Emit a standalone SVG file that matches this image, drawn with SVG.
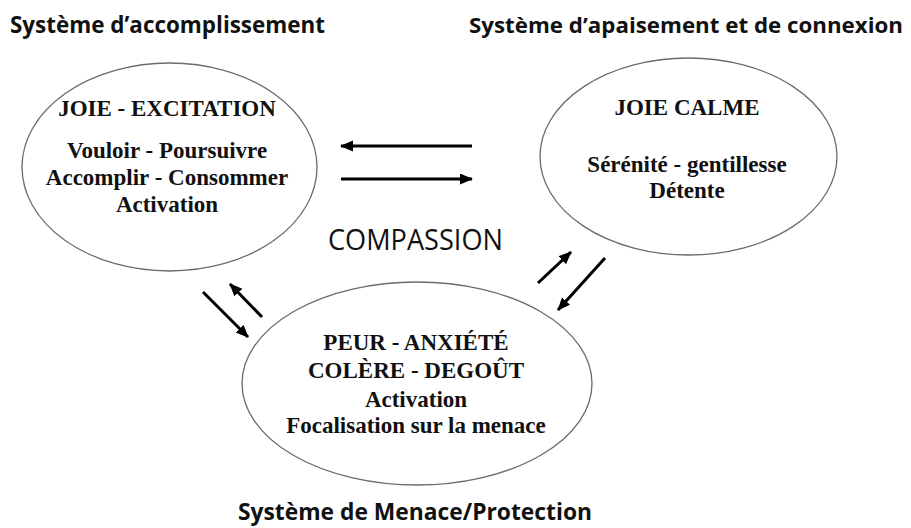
<svg xmlns="http://www.w3.org/2000/svg" width="911" height="528" viewBox="0 0 911 528">
<style>
.ell{fill:#ffffff;stroke:#6b6b6b;stroke-width:1.3}
.t{font-family:"Liberation Serif","Times New Roman",serif;font-weight:bold;font-size:23px;fill:#111;text-anchor:middle}
.h{font-family:"Open Sans","Liberation Sans",sans-serif;font-weight:bold;font-size:23px;fill:#111}
.h2{font-size:21px}
.c{font-family:"Open Sans","Liberation Sans",sans-serif;font-size:30px;fill:#111}
.a{stroke:#000;stroke-width:3;fill:none;marker-end:url(#ah)}
</style>
<defs>
<marker id="ah" markerUnits="userSpaceOnUse" markerWidth="14" markerHeight="12" refX="12" refY="5.5" orient="auto">
<path d="M0,0 L13,5.5 L0,11 z" fill="#000"/>
</marker>
</defs>
<rect width="911" height="528" fill="#ffffff"/>
<g id="title-accomplissement"><text class="h" x="10" y="33" textLength="315" lengthAdjust="spacingAndGlyphs">Système d’accomplissement</text></g>
<g id="title-apaisement"><text class="h h2" x="469" y="33" textLength="434" lengthAdjust="spacingAndGlyphs">Système d’apaisement et de connexion</text></g>
<g id="title-menace"><text class="h" x="238" y="520" textLength="354" lengthAdjust="spacingAndGlyphs">Système de Menace/Protection</text></g>
<g id="compassion"><text class="c" x="328" y="250" textLength="175" lengthAdjust="spacingAndGlyphs">COMPASSION</text></g>
<g id="node-excitation">
<ellipse class="ell" cx="169.5" cy="167" rx="147.5" ry="104"/>
<text class="t" x="167" y="116">JOIE - EXCITATION</text>
<text class="t" x="167" y="158">Vouloir - Poursuivre</text>
<text class="t" x="167" y="185">Accomplir - Consommer</text>
<text class="t" x="167" y="212">Activation</text>
</g>
<g id="node-calme">
<ellipse class="ell" cx="688.5" cy="156.5" rx="148.5" ry="98.5"/>
<text class="t" x="687" y="115">JOIE CALME</text>
<text class="t" x="687" y="172">Sérénité - gentillesse</text>
<text class="t" x="687" y="198">Détente</text>
</g>
<g id="node-menace">
<ellipse class="ell" cx="417" cy="383.5" rx="175" ry="101.5"/>
<text class="t" x="416" y="350">PEUR - ANXIÉTÉ</text>
<text class="t" x="416" y="378">COLÈRE - DEGOÛT</text>
<text class="t" x="416" y="407">Activation</text>
<text class="t" x="416" y="433">Focalisation sur la menace</text>
</g>
<g id="connectors">
<line class="a" x1="472" y1="146" x2="341" y2="146"/>
<line class="a" x1="341" y1="179" x2="472" y2="179"/>
<line class="a" x1="203" y1="292" x2="248" y2="337"/>
<line class="a" x1="262" y1="317" x2="230" y2="284"/>
<line class="a" x1="538" y1="283" x2="571" y2="252"/>
<line class="a" x1="605" y1="258" x2="558" y2="310"/>
</g>
</svg>
